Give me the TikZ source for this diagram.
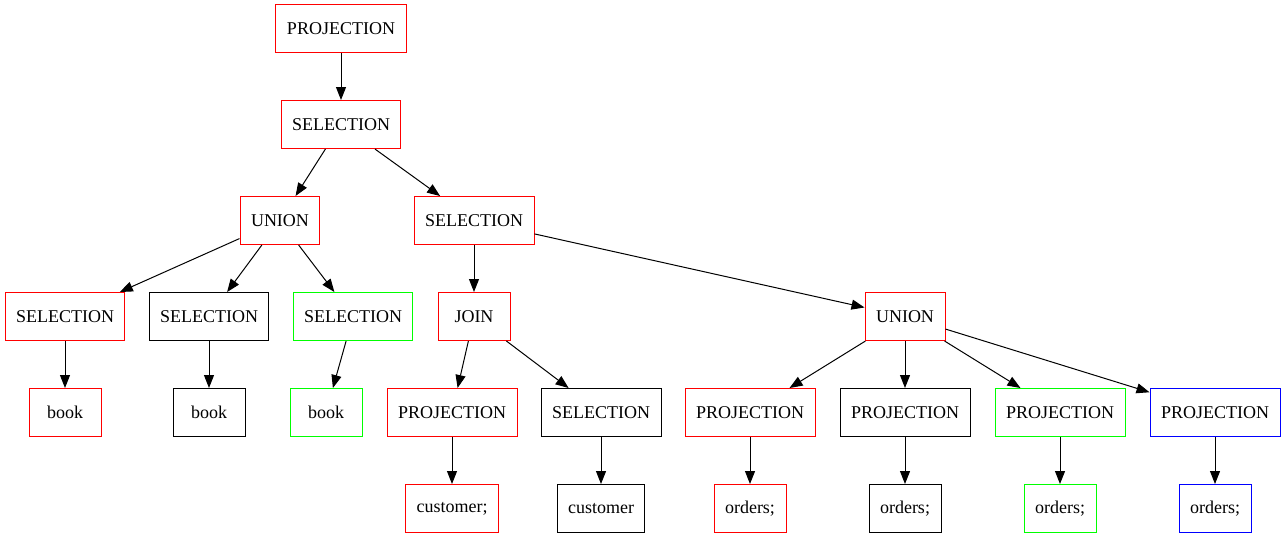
\documentclass[tikz,border=0pt]{standalone}
\usepackage{fontspec}
\setmainfont{Liberation Serif}
\usetikzlibrary{arrows.meta}
\definecolor{gvred}{RGB}{255,0,0}
\definecolor{gvgreen}{RGB}{0,255,0}
\definecolor{gvblue}{RGB}{0,0,255}
\begin{document}
\begin{tikzpicture}[x=1pt,y=-1pt,
  box/.style={draw,rectangle,line width=1pt,minimum height=48pt,minimum width=72pt,inner xsep=11pt,font=\fontsize{18}{20}\selectfont},
  rb/.style={box,draw=gvred},
  kb/.style={box,draw=black},
  gb/.style={box,draw=gvgreen},
  bb/.style={box,draw=gvblue},
  edge/.style={line width=1pt,-{Triangle[length=13pt,width=10pt]}}]
\useasboundingbox (0,0) rectangle (1285,539);
\node[rb] (p0) at (341,28.5) {PROJECTION};
\node[rb] (s0) at (341,124.5) {SELECTION};
\node[rb] (u1) at (280,220.5) {UNION};
\node[rb] (s1) at (474,220.5) {SELECTION};
\node[rb] (s2) at (65,316.5) {SELECTION};
\node[kb] (s3) at (209,316.5) {SELECTION};
\node[gb] (s4) at (353,316.5) {SELECTION};
\node[rb] (j1) at (474,316.5) {JOIN};
\node[rb] (u2) at (905,316.5) {UNION};
\node[rb] (b1) at (65,412.5) {book};
\node[kb] (b2) at (209,412.5) {book};
\node[gb] (b3) at (326,412.5) {book};
\node[rb] (p1) at (452,412.5) {PROJECTION};
\node[kb] (s5) at (601,412.5) {SELECTION};
\node[rb] (p2) at (750,412.5) {PROJECTION};
\node[kb] (p3) at (905,412.5) {PROJECTION};
\node[gb] (p4) at (1060,412.5) {PROJECTION};
\node[bb] (p5) at (1215,412.5) {PROJECTION};
\node[rb] (c1) at (452,508.5) {customer;};
\node[kb] (c2) at (601,508.5) {customer};
\node[rb] (o1) at (750,508.5) {orders;};
\node[kb] (o2) at (905,508.5) {orders;};
\node[gb] (o3) at (1060,508.5) {orders;};
\node[bb] (o4) at (1215,508.5) {orders;};
\draw[edge] (p0) -- (s0);
\draw[edge] (s0) -- (u1);
\draw[edge] (s0) -- (s1);
\draw[edge] (u1) -- (s2);
\draw[edge] (u1) -- (s3);
\draw[edge] (u1) -- (s4);
\draw[edge] (s1) -- (j1);
\draw[edge] (s1) -- (u2);
\draw[edge] (s2) -- (b1);
\draw[edge] (s3) -- (b2);
\draw[edge] (s4) -- (b3);
\draw[edge] (j1) -- (p1);
\draw[edge] (j1) -- (s5);
\draw[edge] (u2) -- (p2);
\draw[edge] (u2) -- (p3);
\draw[edge] (u2) -- (p4);
\draw[edge] (u2) -- (p5);
\draw[edge] (p1) -- (c1);
\draw[edge] (s5) -- (c2);
\draw[edge] (p2) -- (o1);
\draw[edge] (p3) -- (o2);
\draw[edge] (p4) -- (o3);
\draw[edge] (p5) -- (o4);
\end{tikzpicture}
\end{document}
